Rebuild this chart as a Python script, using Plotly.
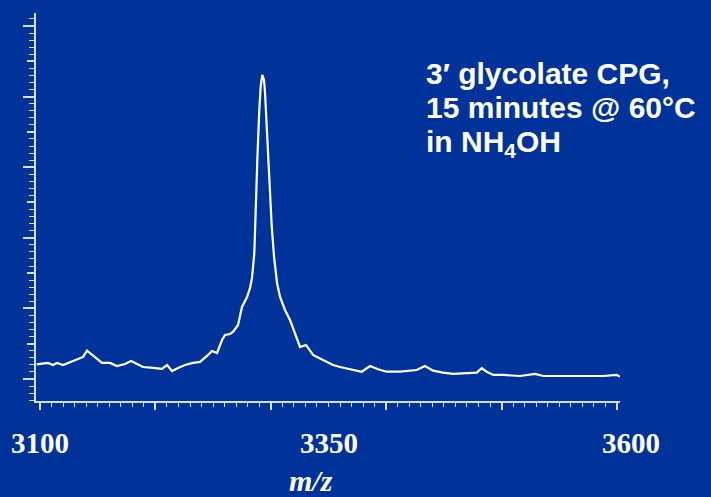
import plotly.graph_objects as go

# Spectrum (m/z, relative intensity)
mz = [3097.1, 3106.9, 3111.3, 3114.7, 3119.9, 3126.0, 3132.1, 3137.3, 3140.7, 3145.1,
      3149.4, 3153.7, 3160.7, 3166.7, 3173.7, 3178.9, 3184.1, 3189.3, 3197.9, 3205.7,
      3210.1, 3214.4, 3219.6, 3225.6, 3232.6, 3238.6, 3244.7, 3249.0, 3253.4, 3257.7,
      3260.3, 3264.6, 3267.2, 3271.6, 3275.0, 3279.4, 3282.0, 3283.7, 3285.7, 3287.2,
      3288.3, 3290.0, 3291.2, 3292.6, 3294.1, 3295.0, 3296.4, 3298.4, 3300.8, 3302.8,
      3305.4, 3308.0, 3312.3, 3316.6, 3321.0, 3325.3, 3330.5, 3336.6, 3345.2, 3353.9,
      3360.0, 3368.6, 3378.8, 3386.0, 3392.9, 3400.4, 3412.0, 3426.4, 3433.6, 3440.6,
      3449.2, 3457.9, 3469.8, 3478.4, 3482.8, 3487.1, 3492.8, 3501.5, 3516.0, 3529.0,
      3536.1, 3556.4, 3567.9, 3588.1, 3599.7, 3602.6]
intensity = [2.08, 2.27, 1.98, 2.27, 1.98, 2.41, 2.83, 3.12, 4.01, 3.40,
             2.83, 2.27, 2.27, 1.84, 2.12, 2.55, 2.12, 1.70, 1.56, 1.42,
             1.98, 1.13, 1.56, 1.98, 2.27, 2.41, 3.26, 3.97, 3.68, 5.52,
             6.23, 6.37, 6.66, 7.65, 10.20, 11.61, 12.89, 14.31, 17.85, 23.94,
             31.02, 38.10, 41.40, 43.06, 42.35, 40.51, 35.74, 28.65, 21.57, 17.28,
             13.60, 11.61, 9.77, 8.36, 6.52, 4.53, 4.82, 3.40, 2.69, 1.98,
             1.70, 1.37, 1.03, 1.84, 1.37, 1.03, 1.03, 1.27, 1.84, 1.18,
             0.89, 0.71, 0.81, 0.89, 1.52, 1.03, 0.57, 0.57, 0.42, 0.71,
             0.42, 0.42, 0.33, 0.42, 0.57, 0.33]

x_label_vals = [3100, 3350, 3600]
x_label_text = ["3100", "3350", "3600"]
title_lines = ["3\u2032 glycolate CPG,", "15 minutes @ 60\u00b0C", "in NH<sub>4</sub>OH"]

BG = "#003399"
AX = "rgb(215,225,245)"

fig = go.Figure()
fig.add_trace(go.Scatter(x=mz, y=intensity, mode="lines",
                         line=dict(color="white", width=2.2), showlegend=False,
                         hoverinfo="skip"))
# invisible trace on secondary y axis for the medium ticks
fig.add_trace(go.Scatter(x=[mz[0]], y=[intensity[0]], yaxis="y2", mode="markers",
                         marker=dict(opacity=0), showlegend=False, hoverinfo="skip"))

fig.update_layout(
    width=711, height=497,
    paper_bgcolor=BG, plot_bgcolor=BG,
    margin=dict(l=36, r=91, t=13, b=96),
    xaxis=dict(range=[3096.5, 3602.6], showgrid=False, zeroline=False,
               showline=True, linecolor=AX, linewidth=2,
               ticks="outside", tick0=3100, dtick=100, showticklabels=False,
               ticklen=7, tickwidth=1.5, tickcolor=AX,
               minor=dict(dtick=10, tick0=3100, ticks="outside", ticklen=4,
                          tickwidth=1.2, tickcolor=AX, showgrid=False)),
    yaxis=dict(range=[-3.12, 51.84], showgrid=False, zeroline=False,
               showline=True, linecolor=AX, linewidth=2,
               ticks="outside", tick0=0, dtick=10, ticklen=11, tickwidth=1.5,
               tickcolor=AX, showticklabels=False,
               minor=dict(dtick=1, tick0=0, ticks="outside", ticklen=5,
                          tickwidth=1.2, tickcolor=AX, showgrid=False)),
    yaxis2=dict(range=[-3.12, 51.84], overlaying="y", side="left",
                showgrid=False, zeroline=False, showline=False,
                ticks="outside", tickvals=[5, 15, 25, 35, 45], ticklen=8,
                tickwidth=1.5, tickcolor=AX, showticklabels=False),
)

for v, t in zip(x_label_vals, x_label_text):
    fig.add_annotation(x=v, xref="x", y=(401 - 443) / 388, yref="paper",
                       text=t, showarrow=False, xanchor="center", yanchor="middle",
                       xshift=14 if v == 3600 else 0,
                       font=dict(family="Liberation Serif", size=29, color="white",
                                 weight="bold"))

fig.add_annotation(x=(311 - 36) / 584, xref="paper", y=(401 - 480) / 388, yref="paper",
                   text="<b><i>m/z</i></b>", showarrow=False, xanchor="center",
                   yanchor="middle",
                   font=dict(family="Liberation Serif", size=30, color="white"))

for i, line in enumerate(title_lines):
    cy = [73, 107, 143][i]
    fig.add_annotation(x=(424 - 36) / 584, xref="paper", y=(401 - cy) / 388, yref="paper",
                       text="<b>" + line + "</b>", showarrow=False, xanchor="left",
                       yanchor="middle",
                       font=dict(family="Liberation Sans", size=30, color="white"))

fig.write_html("out.html")
